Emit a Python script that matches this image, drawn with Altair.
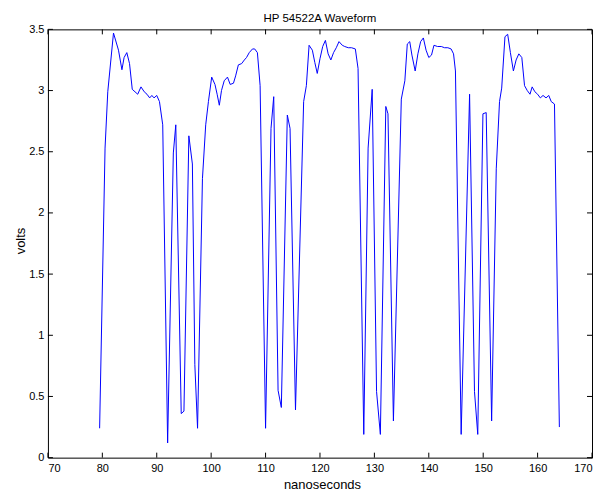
import altair as alt
import pandas as pd

ns = [79.5, 80.5, 81.0, 82.05, 82.97, 83.6, 84.0, 84.5, 85.0, 85.5, 86.5, 87.1, 87.7, 88.2,
      88.7, 89.1, 89.5, 90.0, 90.5, 91.1, 92.0, 93.05, 93.5, 94.5, 95.0, 95.9, 96.55, 97.0,
      97.5, 98.4, 99.0, 99.5, 100.1, 100.7, 101.1, 101.5, 101.9, 102.4, 103.0, 103.5, 104.1,
      104.5, 105.0, 105.6, 106.1, 106.5, 107.0, 107.6, 108.0, 108.5, 109.0, 110.0, 111.0,
      111.5, 112.3, 112.9, 114.0, 114.5, 115.5, 117.0, 117.5, 118.0, 118.6, 119.05, 119.5,
      120.0, 120.5, 121.0, 121.5, 122.0, 122.5, 123.0, 123.5, 124.1, 124.55, 125.2, 125.8,
      126.5, 127.0, 128.05, 128.85, 129.6, 130.4, 131.1, 132.1, 132.5, 133.5, 134.95, 135.6,
      136.05, 136.5, 136.9, 137.5, 138.0, 138.5, 139.0, 139.5, 140.0, 140.5, 140.95, 141.6,
      142.3, 142.9, 143.5, 144.1, 144.55, 144.9, 145.95, 147.5, 148.4, 149.0, 149.95, 150.55,
      151.55, 152.4, 153.0, 153.4, 154.0, 154.5, 155.0, 155.55, 156.05, 156.55, 157.1, 157.6,
      158.1, 158.6, 159.0, 159.5, 160.0, 160.5, 161.0, 161.55, 162.05, 162.5, 163.1, 164.0]
volts = [0.24, 2.53, 2.99, 3.47, 3.33, 3.17, 3.27, 3.31, 3.22, 3.01, 2.97, 3.03, 2.99, 2.97,
         2.94, 2.96, 2.94, 2.96, 2.91, 2.72, 0.12, 2.49, 2.72, 0.36, 0.38, 2.63, 2.40, 0.76,
         0.24, 2.28, 2.72, 2.91, 3.11, 3.05, 2.97, 2.88, 3.00, 3.08, 3.11, 3.05, 3.06,
         3.12, 3.21, 3.22, 3.25, 3.27, 3.31, 3.34, 3.34, 3.31, 3.04, 0.24, 2.69,
         2.95, 0.55, 0.41, 2.80, 2.69, 0.39, 2.91, 3.04, 3.37, 3.33, 3.23, 3.14,
         3.26, 3.36, 3.41, 3.30, 3.25, 3.31, 3.35, 3.40, 3.37, 3.36, 3.35, 3.35,
         3.34, 3.18, 0.19, 2.53, 3.01, 0.54, 0.19, 2.87, 2.81, 0.30, 2.93, 3.08,
         3.38, 3.40, 3.29, 3.16, 3.30, 3.40, 3.43, 3.33, 3.27, 3.29, 3.37, 3.36,
         3.36, 3.35, 3.35, 3.34, 3.30, 3.16, 0.19, 2.97, 0.54, 0.19, 2.81, 2.82,
         0.30, 2.36, 2.91, 3.02, 3.44, 3.46, 3.31, 3.16, 3.25, 3.30, 3.27, 3.04,
         3.00, 2.97, 3.03, 2.99, 2.97, 2.94, 2.96, 2.94, 2.96, 2.91, 2.89, 0.25]

x_ticks = [70, 80, 90, 100, 110, 120, 130, 140, 150, 160, 170]
y_ticks = [0, 0.5, 1, 1.5, 2, 2.5, 3, 3.5]

W, H = 545, 429
TL = 5
FONT = "Liberation Sans"

df = pd.DataFrame({"ns": ns, "volts": volts})
xt = pd.DataFrame({"t": x_ticks})
yt = pd.DataFrame({"t": y_ticks})

xscale = alt.Scale(domain=[70, 170], nice=False, zero=False)
yscale = alt.Scale(domain=[0, 3.5], nice=False, zero=False)

xaxis = alt.Axis(values=x_ticks, ticks=False, tickSize=0, domain=False, grid=False,
                 labelPadding=5, labelFontSize=11, labelFont=FONT, labelColor="black",
                 titleFont=FONT, titleFontSize=13, titleFontWeight="normal",
                 titleColor="black", titleBaseline="alphabetic",
                 titleY=31, titleX=W / 2 + 2)
yaxis = alt.Axis(values=y_ticks, format=".1~f", ticks=False, tickSize=0, domain=False,
                 grid=False, labelPadding=4, labelFontSize=11, labelFont=FONT,
                 labelColor="black",
                 titleFont=FONT, titleFontSize=13, titleFontWeight="normal",
                 titleColor="black", titleBaseline="alphabetic",
                 titleX=-23, titleY=H / 2 - 3)
XT, YT = "nanoseconds", "volts"

line = alt.Chart(df).mark_line(color="#0000ff", strokeWidth=1, clip=True).encode(
    x=alt.X("ns:Q", scale=xscale, title=XT, axis=xaxis),
    y=alt.Y("volts:Q", scale=yscale, title=YT, axis=yaxis),
)

bt = alt.Chart(xt).mark_rule(color="black", strokeWidth=1).encode(
    x=alt.X("t:Q", scale=xscale, title=XT, axis=xaxis), y=alt.value(H), y2=alt.value(H - TL))
tt = alt.Chart(xt).mark_rule(color="black", strokeWidth=1).encode(
    x=alt.X("t:Q", scale=xscale, title=XT, axis=xaxis), y=alt.value(0), y2=alt.value(TL))
lt = alt.Chart(yt).mark_rule(color="black", strokeWidth=1).encode(
    y=alt.Y("t:Q", scale=yscale, title=YT, axis=yaxis), x=alt.value(0), x2=alt.value(TL))
rt = alt.Chart(yt).mark_rule(color="black", strokeWidth=1).encode(
    y=alt.Y("t:Q", scale=yscale, title=YT, axis=yaxis), x=alt.value(W), x2=alt.value(W - TL))

chart = alt.layer(line, bt, tt, lt, rt).properties(
    width=W, height=H,
    title=alt.TitleParams("HP 54522A Waveform", font=FONT, fontSize=11.5, fontWeight="normal",
                          color="black", offset=-1),
    padding={"left": 7, "top": 4, "right": 5, "bottom": 0},
).configure_view(stroke="black", strokeWidth=1)

chart.save("out.html", embed_options={"renderer": "svg", "actions": False})
